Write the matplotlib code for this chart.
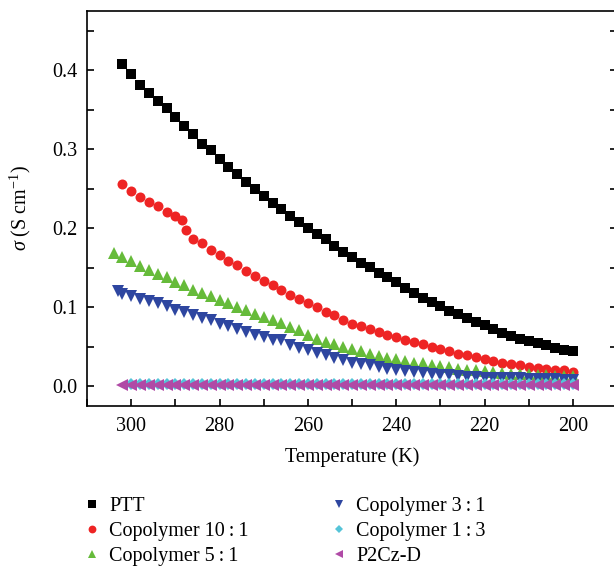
import matplotlib
matplotlib.use("Agg")
import matplotlib.pyplot as plt
from matplotlib.ticker import MultipleLocator

plt.rcParams['font.family'] = ['Liberation Serif', 'DejaVu Serif']
plt.rcParams['mathtext.fontset'] = 'custom'
plt.rcParams['mathtext.rm'] = 'Liberation Serif'
plt.rcParams['mathtext.it'] = 'Liberation Serif:italic'

# temperature grids (K)
temp_ptt = [302, 300, 298, 296, 294, 292, 290, 288, 286, 284, 282, 280, 278, 276,
            274, 272, 270, 268, 266, 264, 262, 260, 258, 256, 254, 252, 250, 248,
            246, 244, 242, 240, 238, 236, 234, 232, 230, 228, 226, 224, 222, 220,
            218, 216, 214, 212, 210, 208, 206, 204, 202, 200]
temp_10_1 = temp_ptt[:7] + [288.5, 287.5] + temp_ptt[8:]
temp_5_1 = [304] + temp_ptt
temp_3_1 = [303] + temp_ptt
temp_1_3 = temp_ptt[1:]
temp_p2cz = temp_ptt

# conductivity (S/cm)
sigma_ptt = [0.408, 0.395, 0.381, 0.371, 0.361, 0.352, 0.341, 0.330, 0.319, 0.307,
             0.299, 0.288, 0.278, 0.269, 0.259, 0.250, 0.241, 0.232, 0.224, 0.215,
             0.208, 0.200, 0.193, 0.186, 0.177, 0.170,
             0.163, 0.156, 0.151, 0.143, 0.138, 0.132, 0.124, 0.118, 0.112, 0.107,
             0.102, 0.095, 0.092, 0.086, 0.081, 0.077, 0.072, 0.067, 0.064, 0.060,
             0.057, 0.055, 0.052, 0.049, 0.046, 0.044]
sigma_10_1 = [0.256, 0.247, 0.240, 0.233, 0.228, 0.221, 0.216, 0.210, 0.198,
              0.186, 0.181, 0.173, 0.166, 0.159, 0.153, 0.146, 0.139, 0.133, 0.128,
              0.122, 0.115, 0.111, 0.105, 0.100, 0.094, 0.090, 0.084, 0.079, 0.076,
              0.072, 0.069, 0.065, 0.062, 0.059, 0.056, 0.053, 0.050, 0.047, 0.044,
              0.041, 0.039, 0.037, 0.034, 0.032, 0.030, 0.028, 0.027, 0.024, 0.023,
              0.022, 0.021, 0.020, 0.018]
sigma_5_1 = [0.169, 0.164, 0.158, 0.152, 0.147, 0.142, 0.138, 0.132, 0.128, 0.122,
             0.118, 0.114,
             0.109, 0.105, 0.100, 0.096, 0.091, 0.088, 0.084, 0.080, 0.075, 0.071,
             0.065, 0.060, 0.056, 0.053, 0.050, 0.047, 0.044, 0.041, 0.038, 0.036,
             0.034, 0.032, 0.030, 0.029, 0.027, 0.026, 0.024, 0.022, 0.021, 0.020,
             0.019, 0.018, 0.017, 0.016, 0.015, 0.015, 0.014, 0.014, 0.013, 0.013,
             0.013]
sigma_3_1 = [0.121, 0.117, 0.114, 0.111, 0.108, 0.105, 0.101, 0.097, 0.094, 0.090,
             0.087, 0.084,
             0.079, 0.076, 0.073, 0.069, 0.065, 0.062, 0.059, 0.058, 0.052, 0.049,
             0.046, 0.042, 0.039, 0.036, 0.033, 0.030, 0.028, 0.027, 0.024, 0.022,
             0.021, 0.019, 0.018, 0.017, 0.015, 0.014, 0.014, 0.013, 0.012, 0.012,
             0.011, 0.011, 0.010, 0.010, 0.010, 0.009, 0.009, 0.009, 0.009, 0.008,
             0.008]
sigma_1_3 = [0.003, 0.003, 0.003, 0.003, 0.003, 0.003, 0.003, 0.003, 0.003, 0.003,
             0.003, 0.003, 0.003, 0.003, 0.003, 0.003, 0.003, 0.003, 0.003, 0.003,
             0.003, 0.003, 0.003, 0.003, 0.003, 0.003, 0.003, 0.003, 0.003, 0.003,
             0.003, 0.003, 0.003, 0.003, 0.003, 0.003, 0.003, 0.003, 0.003, 0.003,
             0.003, 0.003, 0.003, 0.003, 0.003, 0.003, 0.003, 0.003, 0.003, 0.003,
             0.003]
sigma_p2cz = [0.001, 0.001, 0.001, 0.001, 0.001, 0.001, 0.001, 0.001, 0.001, 0.001,
              0.001, 0.001, 0.001, 0.001, 0.001, 0.001, 0.001, 0.001, 0.001, 0.001,
              0.001, 0.001, 0.001, 0.001, 0.001, 0.001, 0.001, 0.001, 0.001, 0.001,
              0.001, 0.001, 0.001, 0.001, 0.001, 0.001, 0.001, 0.001, 0.001, 0.001,
              0.001, 0.001, 0.001, 0.001, 0.001, 0.001, 0.001, 0.001, 0.001, 0.001,
              0.001, 0.001]

labels = ['PTT', 'Copolymer 10\u2009:\u20091', 'Copolymer 5\u2009:\u20091',
          'Copolymer 3\u2009:\u20091', 'Copolymer 1\u2009:\u20093', 'P2Cz-D']

fig = plt.figure(figsize=(6.14, 5.67), dpi=100)
ax = fig.add_axes([87 / 614, 161 / 567, 530 / 614, 395 / 567])

series = [
    (temp_ptt, sigma_ptt, 's', '#000000', 6.6),
    (temp_10_1, sigma_10_1, 'o', '#ee2424', 7.2),
    (temp_5_1, sigma_5_1, '^', '#66bb3a', 8.2),
    (temp_3_1, sigma_3_1, 'v', '#2e46a0', 8.2),
    (temp_1_3, sigma_1_3, 'D', '#55c4d8', 5.8),
    (temp_p2cz, sigma_p2cz, '<', '#b04aa6', 8.2),
]
for (t, s, m, c, ms), lab in zip(series, labels):
    ax.plot(t, s, linestyle='none', marker=m, color=c, markersize=ms,
            markeredgewidth=0, label=lab)

ax.set_xlim(310, 190)
ax.set_ylim(-0.025, 0.475)
ax.xaxis.set_major_locator(MultipleLocator(20))
ax.xaxis.set_minor_locator(MultipleLocator(10))
ax.yaxis.set_major_locator(MultipleLocator(0.1))
ax.yaxis.set_minor_locator(MultipleLocator(0.05))
ax.tick_params(which='both', direction='in', length=5, width=1.2,
               top=False, right=True, labelsize=14.5)
ax.tick_params(axis='x', pad=8)
ax.tick_params(axis='y', pad=7)
for sp in ax.spines.values():
    sp.set_linewidth(1.2)

ax.set_xlabel('Temperature (K)', fontsize=14.5, labelpad=8)
ax.set_ylabel(r'$\sigma$ (S cm$^{-1}$)', fontsize=14.5, labelpad=14)

fig.legend(loc='upper left', bbox_to_anchor=(84 / 614, 1 - 497 / 567), ncol=2,
           frameon=False, fontsize=14.5, markerscale=0.78, handlelength=0.8,
           handletextpad=0.45, columnspacing=4.1, labelspacing=0.3,
           borderpad=0, borderaxespad=0)

fig.savefig('out.png', dpi=100)
